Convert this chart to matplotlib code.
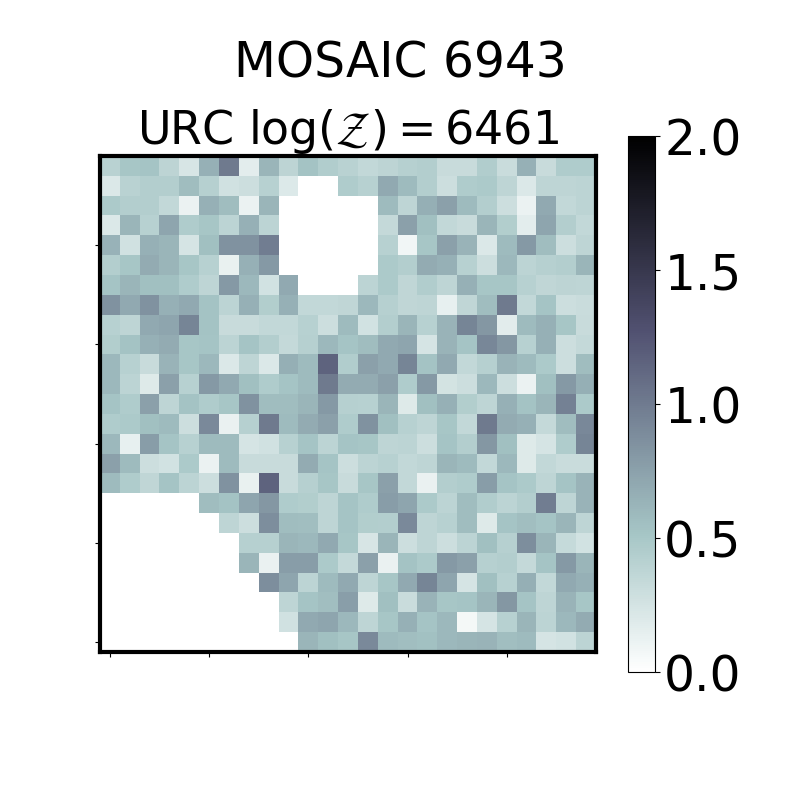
import matplotlib
matplotlib.use("Agg")
import matplotlib.pyplot as plt
import numpy as np

n = np.nan

# rows listed top to bottom
values = [
    [.4, .5, .52, .38, .23, .65, 1.0, .16, .62, .38, .53, .45, .4, .35, .38, .42, .43, .32, .32, .45, .31, .65, .32, .46, .46],
    [.21, .4, .43, .43, .57, .42, .27, .29, .41, .2, n, n, .46, .41, .7, .58, .43, .29, .46, .47, .37, .21, .37, .37, .39],
    [.47, .43, .43, .35, .11, .65, .57, .11, .62, n, n, n, n, n, .58, .37, .66, .75, .58, .43, .29, .11, .7, .35, .39],
    [.21, .62, .41, .72, .46, .5, .39, .65, .39, n, n, n, n, n, .34, .75, .55, .35, .32, .62, .44, .16, .72, .43, .35],
    [.64, .27, .65, .62, .24, .55, .85, .85, .98, n, n, n, n, n, .41, .08, .5, .75, .63, .21, .58, .8, .57, .29, .37],
    [.43, .5, .68, .62, .5, .41, .13, .65, .8, n, n, n, n, n, .47, .43, .68, .65, .41, .29, .6, .39, .42, .43, .62],
    [.52, .62, .55, .55, .46, .37, .8, .6, .26, .7, n, n, n, .39, .47, .36, .45, .37, .65, .5, .5, .41, .36, .38, .37],
    [.85, .7, .85, .65, .7, .53, .39, .65, .44, .65, .35, .35, .36, .6, .42, .36, .37, .14, .36, .57, 1.0, .35, .52, .29, .31],
    [.41, .37, .7, .72, .93, .53, .32, .32, .35, .35, .41, .29, .58, .26, .43, .62, .41, .63, .93, .82, .17, .58, .65, .5, .32],
    [.44, .53, .65, .68, .5, .52, .39, .52, .43, .34, .42, .6, .52, .57, .7, .72, .24, .63, .52, .92, .82, .41, .65, .29, .34],
    [.6, .41, .32, .63, .5, .6, .21, .37, .21, .66, .58, 1.15, .45, .75, .7, .93, .53, .7, .35, .42, .63, .58, .47, .29, .57],
    [.6, .39, .19, .75, .41, .8, .7, .55, .46, .52, .58, 1.0, .68, .68, .75, .46, .8, .25, .29, .6, .29, .11, .55, .8, .66],
    [.52, .46, .75, .37, .53, .46, .5, .85, .57, .57, .62, .8, .42, .41, .62, .19, .55, .65, .44, .37, .65, .53, .62, .96, .47],
    [.46, .47, .55, .58, .29, .9, .12, .42, 1.0, .58, .68, .75, .46, .85, .55, .41, .37, .5, .35, 1.0, .68, .65, .34, .57, .91],
    [.6, .14, .78, .52, .41, .58, .58, .24, .27, .41, .52, .39, .52, .5, .37, .39, .29, .52, .43, .82, .55, .19, .24, .46, .93],
    [.75, .58, .29, .26, .47, .11, .58, .32, .32, .32, .68, .52, .29, .39, .41, .35, .37, .62, .58, .35, .6, .19, .35, .31, .31],
    [.58, .46, .36, .52, .39, .29, .85, .13, 1.15, .32, .42, .5, .32, .5, .75, .35, .12, .43, .46, .78, .52, .47, .37, .52, .63],
    [n, n, n, n, n, .57, .53, .72, .82, .46, .44, .37, .52, .46, .78, .72, .47, .39, .57, .45, .39, .43, .98, .37, .63],
    [n, n, n, n, n, n, .37, .29, .87, .57, .56, .37, .52, .44, .43, .9, .37, .41, .57, .19, .52, .56, .52, .62, .37],
    [n, n, n, n, n, n, n, .42, .42, .62, .6, .7, .5, .23, .62, .29, .37, .29, .39, .55, .42, .87, .62, .33, .26],
    [n, n, n, n, n, n, n, .62, .12, .78, .78, .47, .34, .75, .12, .53, .47, .8, .75, .42, .43, .34, .52, .8, .62],
    [n, n, n, n, n, n, n, n, .87, .72, .39, .58, .7, .37, .5, .7, .93, .72, .24, .55, .41, .66, .35, .7, .65],
    [n, n, n, n, n, n, n, n, n, .37, .52, .56, .77, .19, .55, .31, .63, .5, .52, .62, .82, .52, .37, .63, .5],
    [n, n, n, n, n, n, n, n, n, .27, .7, .72, .6, .37, .5, .65, .52, .6, .07, .24, .41, .62, .39, .6, .68],
    [n, n, n, n, n, n, n, n, n, n, .62, .55, .5, .9, .58, .56, .54, .6, .62, .63, .56, .58, .24, .26, .39],
]
tick_x = [0, 5, 10, 15, 20]
tick_y = [4, 9, 14, 19, 24]
cbar_ticks = [0.0, 0.5, 1.0, 1.5, 2.0]

fig = plt.figure(figsize=(8, 8), dpi=100)
ax = fig.add_axes([100 / 800, 1 - 652 / 800, 496 / 800, 496 / 800])
im = ax.imshow(np.array(values), cmap="bone_r", vmin=0, vmax=2, aspect="equal", interpolation="nearest")
ax.set_xticks(tick_x)
ax.set_yticks(tick_y)
ax.set_xticklabels([])
ax.set_yticklabels([])
for s in ax.spines.values():
    s.set_linewidth(3)
ax.set_title(r"URC $\log(\mathcal{Z}) = 6461$", fontsize=33, pad=3)
fig.text(0.5, 1 - 77 / 800, "MOSAIC 6943", fontsize=35, ha="center", va="baseline")

cax = fig.add_axes([627.5 / 800, 1 - 672 / 800, 27 / 800, 536 / 800])
cb = fig.colorbar(im, cax=cax)
cb.set_ticks(cbar_ticks)
cb.ax.tick_params(labelsize=35)

fig.savefig("out.png", dpi=100)
